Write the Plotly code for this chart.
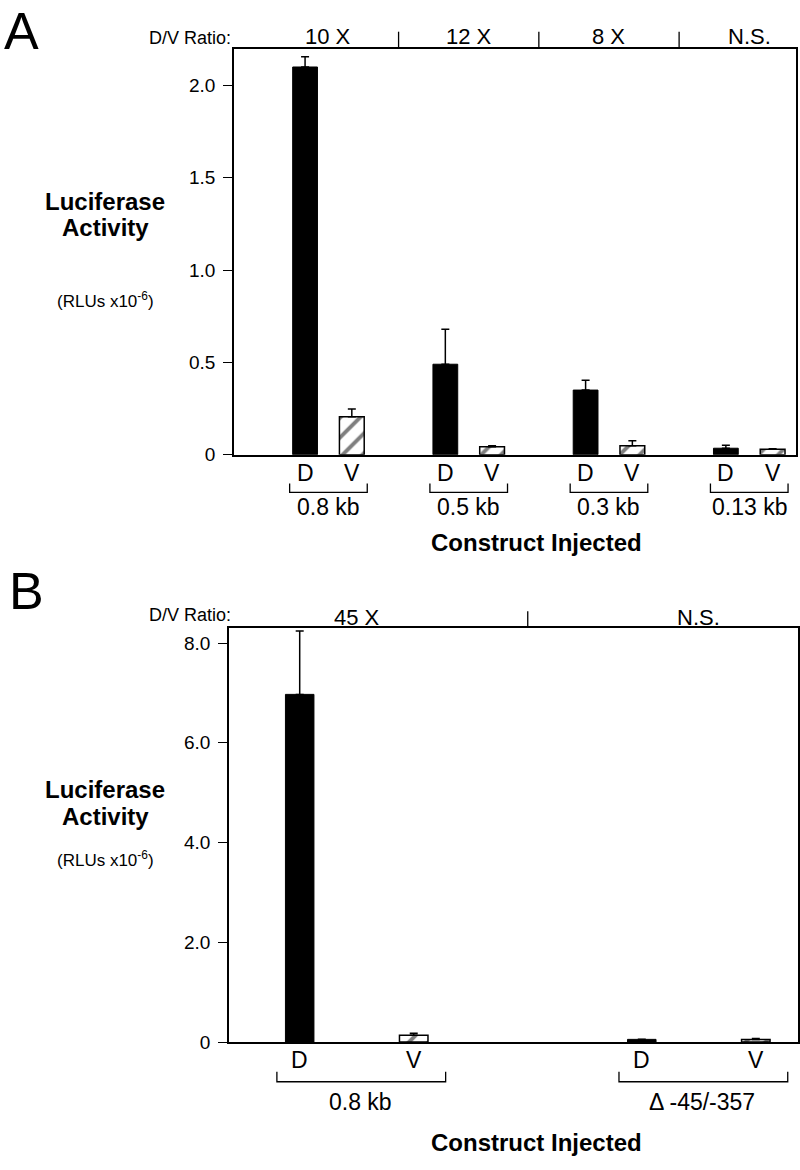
import plotly.graph_objects as go

# ---------------- data ----------------
A_groups = ["0.8 kb", "0.5 kb", "0.3 kb", "0.13 kb"]
A_ratio = ["10 X", "12 X", "8 X", "N.S."]
A_D = [2.10, 0.49, 0.35, 0.035]
A_D_err = [0.055, 0.19, 0.053, 0.016]
A_V = [0.205, 0.043, 0.048, 0.029]
A_V_err = [0.043, 0.005, 0.027, 0.003]
A_yticks = [0, 0.5, 1.0, 1.5, 2.0]
A_yticktext = ["0", "0.5", "1.0", "1.5", "2.0"]

B_groups = ["0.8 kb", "\u0394 -45/-357"]
B_ratio = ["45 X", "N.S."]
B_D = [6.97, 0.055]
B_D_err = [1.27, 0.0]
B_V = [0.14, 0.05]
B_V_err = [0.04, 0.02]
B_yticks = [0, 2, 4, 6, 8]
B_yticktext = ["0", "2.0", "4.0", "6.0", "8.0"]

bar_labels = ["D", "V"]

# ---------------- layout helpers ----------------
W, H = 800, 1170
FONT = "Liberation Sans, Arial, Helvetica, sans-serif"


def px(p):
    return p / W


def py(p):
    return 1 - p / H


fig = go.Figure()
shapes = []
annotations = []


def panel(xa, ya, groups, ratios, D, Derr, V, Verr, barw, geom):
    n = len(groups)
    xD = [3 * i for i in range(n)]
    xV = [3 * i + 1 for i in range(n)]
    fig.add_trace(go.Bar(
        x=xD, y=D, width=barw, xaxis=xa, yaxis=ya,
        marker=dict(color="black", line=dict(color="black", width=1)),
        error_y=dict(type="data", symmetric=False, array=Derr,
                     arrayminus=[0] * n, color="black", thickness=1.5, width=4),
        showlegend=False, hoverinfo="x+y"))
    fig.add_trace(go.Bar(
        x=xV, y=V, width=barw, xaxis=xa, yaxis=ya,
        marker=dict(color="white", line=dict(color="black", width=1.5),
                    pattern=dict(shape="/", fgcolor="black", bgcolor="white",
                                 size=14, solidity=0.28)),
        error_y=dict(type="data", symmetric=False, array=Verr,
                     arrayminus=[0] * n, color="black", thickness=1.5, width=4),
        showlegend=False, hoverinfo="x+y"))
    xref = xa
    top = geom["top"]
    # dividers on top
    for i in range(1, n):
        xm = 3 * i - 1
        shapes.append(dict(type="line", xref=xref, yref="paper",
                           x0=xm, x1=xm, y0=py(top), y1=py(top - 17),
                           line=dict(color="black", width=1.3)))
    # ratio labels
    for i, r in enumerate(ratios):
        annotations.append(dict(text=r, xref=xref, yref="paper", x=3 * i + 0.5,
                                y=py(geom["ratio_y"]), showarrow=False,
                                xanchor="center", yanchor="middle",
                                font=dict(size=22, color="black", family=FONT)))
    annotations.append(dict(text="D/V Ratio:", xref="paper", yref="paper",
                            x=px(190), y=py(geom["dv_y"]), showarrow=False,
                            xanchor="center", yanchor="middle",
                            font=dict(size=18, color="black", family=FONT)))
    # D / V labels, brackets, group labels
    for i, g in enumerate(groups):
        for j, lab in enumerate(bar_labels):
            annotations.append(dict(text=lab, xref=xref, yref="paper",
                                    x=3 * i + j, y=py(geom["lab_y"]),
                                    showarrow=False, xanchor="center",
                                    yanchor="middle",
                                    font=dict(size=23, color="black", family=FONT)))
        x0 = 3 * i + geom["br0"]
        x1 = 3 * i + geom["br1"]
        y0 = py(geom["br_top"])
        y1 = py(geom["br_bot"])
        shapes.append(dict(type="path", xref=xref, yref="paper",
                           path=f"M {x0},{y0} L {x0},{y1} L {x1},{y1} L {x1},{y0}",
                           line=dict(color="black", width=1.3)))
        annotations.append(dict(text=g, xref=xref, yref="paper",
                                x=3 * i + 0.5 + geom.get("gshift", 0),
                                y=py(geom["grp_y"]), showarrow=False,
                                xanchor="center", yanchor="middle",
                                font=dict(size=23, color="black", family=FONT)))
    annotations.append(dict(text="<b>Construct Injected</b>", xref="paper",
                            yref="paper", x=px(536), y=py(geom["ci_y"]),
                            showarrow=False, xanchor="center", yanchor="middle",
                            font=dict(size=24, color="black", family=FONT)))
    # y title
    annotations.append(dict(text="<b>Luciferase</b>", xref="paper", yref="paper",
                            x=px(105), y=py(geom["t1"]), showarrow=False,
                            xanchor="center", yanchor="middle",
                            font=dict(size=24, color="black", family=FONT)))
    annotations.append(dict(text="<b>Activity</b>", xref="paper", yref="paper",
                            x=px(105), y=py(geom["t2"]), showarrow=False,
                            xanchor="center", yanchor="middle",
                            font=dict(size=24, color="black", family=FONT)))
    annotations.append(dict(text="(RLUs x10<sup>-6</sup>)", xref="paper",
                            yref="paper", x=px(105), y=py(geom["t3"]),
                            showarrow=False, xanchor="center", yanchor="middle",
                            font=dict(size=17, color="black", family=FONT)))


geomA = dict(top=49, ratio_y=37, dv_y=38, lab_y=477, br0=-0.33, br1=1.33,
             br_top=488, br_bot=497, grp_y=512, ci_y=548, t1=203, t2=230, t3=303)
geomB = dict(top=634, ratio_y=623, dv_y=621, lab_y=1070, br0=-0.2, br1=1.28,
             br_top=1082, br_bot=1092, grp_y=1112, gshift=0.03, ci_y=1153,
             t1=797, t2=824, t3=867)

panel("x", "y", A_groups, A_ratio, A_D, A_D_err, A_V, A_V_err, 0.53, geomA)
panel("x2", "y2", B_groups, B_ratio, B_D, B_D_err, B_V, B_V_err, 0.25, geomB)

# panel letters
annotations.append(dict(text="A", xref="paper", yref="paper", x=px(2), y=1.0,
                        showarrow=False, xanchor="left", yanchor="top",
                        font=dict(size=52, color="black", family=FONT)))
annotations.append(dict(text="B", xref="paper", yref="paper", x=px(7), y=py(597),
                        showarrow=False, xanchor="left", yanchor="middle",
                        font=dict(size=52, color="black", family=FONT)))

axis_common = dict(showline=True, linecolor="black", linewidth=1.5, mirror=True,
                   showgrid=False, zeroline=False)

fig.update_layout(
    width=W, height=H,
    margin=dict(l=0, r=0, t=0, b=0),
    paper_bgcolor="white", plot_bgcolor="white",
    barmode="overlay",
    font=dict(family=FONT, color="black"),
    xaxis=dict(domain=[px(234), px(796)], range=[-1.52, 10.5],
               showticklabels=False, ticks="", anchor="y", **axis_common),
    yaxis=dict(domain=[py(459), py(49)], range=[0, 2.2], tickvals=A_yticks,
               ticktext=A_yticktext, ticks="outside", ticklen=9, tickwidth=1.3,
               tickcolor="black", tickfont=dict(size=19, family=FONT, color="black"),
               ticklabelstandoff=4, anchor="x", **axis_common),
    xaxis2=dict(domain=[px(229), px(798)], range=[-0.62, 4.37],
                showticklabels=False, ticks="", anchor="y2", **axis_common),
    yaxis2=dict(domain=[py(1052), py(634)], range=[0, 8.3], tickvals=B_yticks,
                ticktext=B_yticktext, ticks="outside", ticklen=9, tickwidth=1.3,
                tickcolor="black", tickfont=dict(size=19, family=FONT, color="black"),
                ticklabelstandoff=4, anchor="x2", **axis_common),
    shapes=shapes,
    annotations=annotations,
)

fig.write_html(
    "out.html",
    config={"displayModeBar": False},
    post_script="document.body.style.margin='0';document.body.style.overflow='hidden';",
)
